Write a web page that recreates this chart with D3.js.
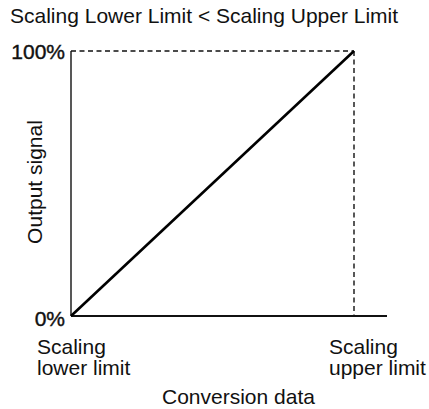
<!DOCTYPE html>
<html>
<head>
<meta charset="utf-8">
<script src="https://cdn.jsdelivr.net/npm/d3@7"></script>
<style>
  html, body { margin: 0; padding: 0; background: #fff; }
  svg { display: block; }
  text { font-family: "Liberation Sans", Arial, Helvetica, sans-serif; fill: #111; }
</style>
</head>
<body>
<svg id="chart" width="429" height="409"></svg>
<script>
// Scaling line: conversion data (fraction of span) -> output signal (%)
const conversion = [0, 1];
const output = [0, 100];
const yTickLabels = ["0%", "100%"];
const xLabels = [["Scaling", "lower limit"], ["Scaling", "upper limit"]];
const title = "Scaling Lower Limit < Scaling Upper Limit";
const xTitle = "Conversion data";
const yTitle = "Output signal";

const fontSize = 21;
const svg = d3.select("#chart");
const x = d3.scaleLinear().domain([0, 1]).range([71, 354]);
const y = d3.scaleLinear().domain([0, 100]).range([316, 51]);
const xAxisEnd = 387;

svg.append("text").attr("x", 10).attr("y", 23)
  .attr("font-size", fontSize).text(title);

// axes
svg.append("line").attr("x1", x(0)).attr("x2", x(0)).attr("y1", y(100)).attr("y2", y(0))
  .attr("stroke", "#111").attr("stroke-width", 1.4);
svg.append("line").attr("x1", x(0)).attr("x2", xAxisEnd).attr("y1", y(0)).attr("y2", y(0))
  .attr("stroke", "#111").attr("stroke-width", 2);

// dashed guides to the upper limit point
const dash = "5,3.5";
svg.append("line").attr("x1", x(0)).attr("x2", x(1)).attr("y1", y(100)).attr("y2", y(100))
  .attr("stroke", "#111").attr("stroke-width", 1.4).attr("stroke-dasharray", dash);
svg.append("line").attr("x1", x(1)).attr("x2", x(1)).attr("y1", y(100)).attr("y2", y(0))
  .attr("stroke", "#111").attr("stroke-width", 1.4).attr("stroke-dasharray", dash);

// scaling line
const line = d3.line().x((d, i) => x(conversion[i])).y(d => y(d));
svg.append("path").datum(output).attr("d", line)
  .attr("fill", "none").attr("stroke", "#000").attr("stroke-width", 2.6);

// y tick labels
svg.selectAll("text.ytick").data(output).join("text").attr("class", "ytick")
  .attr("x", x(0) - 6).attr("y", d => y(d) + (d === 0 ? 10 : 8))
  .attr("text-anchor", "end").attr("font-size", fontSize)
  .attr("stroke", "#111").attr("stroke-width", 0.4)
  .text((d, i) => yTickLabels[i]);

// x labels under each limit
const xl = svg.selectAll("g.xlab").data(conversion).join("g").attr("class", "xlab")
  .attr("transform", (d, i) => `translate(${i === 0 ? x(d) - 34 : x(d) - 25},354)`);
xl.each(function(d, i) {
  const g = d3.select(this);
  g.append("text").attr("y", 0).attr("font-size", fontSize).text(xLabels[i][0]);
  g.append("text").attr("y", 21).attr("font-size", fontSize).text(xLabels[i][1]);
});

svg.append("text").attr("x", 162).attr("y", 404)
  .attr("font-size", fontSize).text(xTitle);

svg.append("text").attr("transform", `translate(42,182) rotate(-90)`)
  .attr("text-anchor", "middle").attr("font-size", fontSize).text(yTitle);
</script>
</body>
</html>
